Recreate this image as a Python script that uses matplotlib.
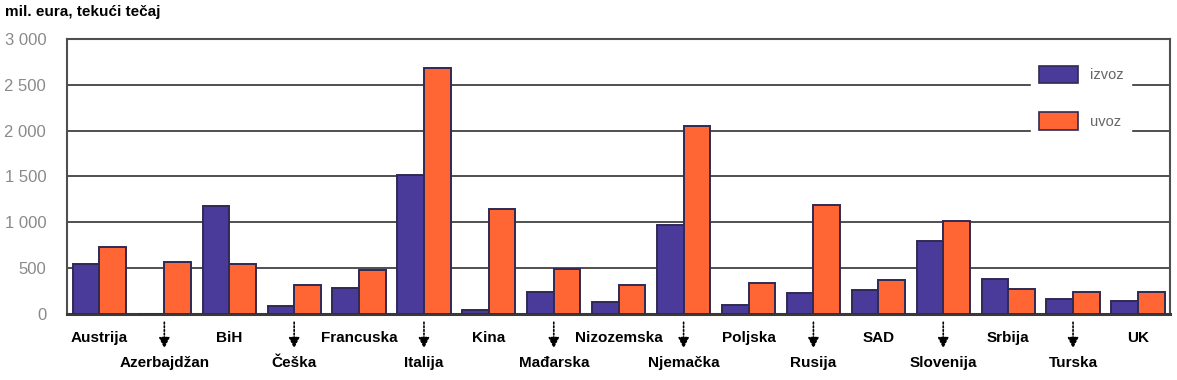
import numpy as np
import matplotlib
matplotlib.use('Agg')
import matplotlib.pyplot as plt
from matplotlib.patches import Patch

countries = ['Austrija', 'Azerbajdžan', 'BiH', 'Češka', 'Francuska', 'Italija', 'Kina',
             'Mađarska', 'Nizozemska', 'Njemačka', 'Poljska', 'Rusija', 'SAD',
             'Slovenija', 'Srbija', 'Turska', 'UK']
izvoz = [550, 5, 1175, 90, 285, 1515, 45, 240, 130, 970, 100, 230, 265, 795, 380, 165, 140]
uvoz = [730, 565, 545, 315, 480, 2680, 1150, 490, 315, 2055, 340, 1185, 375, 1015, 275, 240, 240]
yticks = [0, 500, 1000, 1500, 2000, 2500, 3000]

C_IZ, C_UV, EDGE, GRID = '#4a3a9a', '#ff6633', '#2e2a55', '#4f4f4f'
plt.rcParams['font.family'] = ['Liberation Sans', 'DejaVu Sans']

fig = plt.figure(figsize=(11.77, 3.8), dpi=100)
ax = fig.add_axes([0.0569, 0.1737, 0.9375, 0.7237])

x = np.arange(len(countries)); w = 0.41
ax.bar(x - w/2, izvoz, w, color=C_IZ, edgecolor=EDGE, linewidth=1.4, zorder=3)
ax.bar(x + w/2, uvoz, w, color=C_UV, edgecolor=EDGE, linewidth=1.4, zorder=3)

ax.set_xlim(-0.5, len(countries) - 0.5)
ax.set_ylim(0, 3000)
ax.set_yticks(yticks, [f'{v:,}'.replace(',', ' ') for v in yticks])
ax.tick_params(axis='y', length=0, pad=15, labelsize=12, labelcolor='#8a8a8a')
ax.set_xticks([])
for v in yticks[1:]:
    ax.axhline(v, color=GRID, lw=1.4, zorder=1)
for sp in ax.spines.values():
    sp.set_color(GRID); sp.set_linewidth(1.5)
ax.spines['bottom'].set_linewidth(2.2)
ax.spines['bottom'].set_color('#3a3a3a')

tr = ax.get_xaxis_transform()
for i, name in enumerate(countries):
    if i % 2 == 0:
        ax.text(i, -0.087, name, transform=tr, ha='center', va='center',
                fontsize=11, fontweight='bold')
    else:
        ax.annotate('', xy=(i, -0.125), xytext=(i, -0.03), xycoords=tr, textcoords=tr,
                    arrowprops=dict(arrowstyle='-|>', linestyle=(0, (1, 1.2)), lw=1.2,
                                    color='black', mutation_scale=16, shrinkA=0, shrinkB=0))
        ax.text(i, -0.18, name, transform=tr, ha='center', va='center',
                fontsize=11, fontweight='bold')

handles = [Patch(facecolor=C_IZ, edgecolor=EDGE, lw=1.2),
           Patch(facecolor=C_UV, edgecolor=EDGE, lw=1.2)]
leg = ax.legend(handles, ['izvoz', 'uvoz'], loc='upper left', bbox_to_anchor=(0.874, 0.93),
                frameon=True, fancybox=False, framealpha=1, edgecolor='white',
                fontsize=10.5, handlelength=2.7, handleheight=1.5, labelspacing=2.0,
                handletextpad=0.8, borderpad=0.5, borderaxespad=0)
for t in leg.get_texts():
    t.set_color('#666666')
leg.set_zorder(5)

fig.text(0.004, 0.968, 'mil. eura, tekući tečaj', fontsize=11, fontweight='bold',
         ha='left', va='center')

fig.savefig('out.png', dpi=100)
